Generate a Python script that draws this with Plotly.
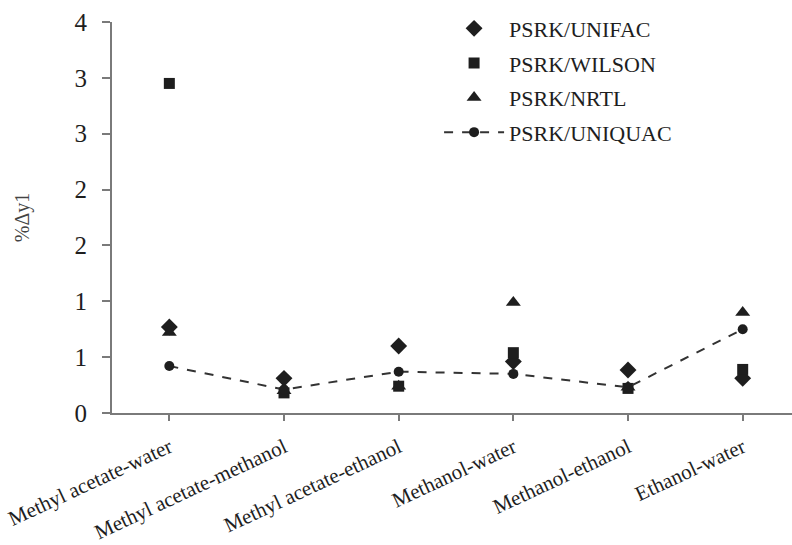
import plotly.graph_objects as go

categories = ["Methyl acetate-water", "Methyl acetate-methanol", "Methyl acetate-ethanol",
              "Methanol-water", "Methanol-ethanol", "Ethanol-water"]
unifac = [0.77, 0.31, 0.60, 0.46, 0.385, 0.31]
wilson = [2.95, 0.18, 0.24, 0.54, 0.22, 0.39]
nrtl = [0.72, 0.20, 0.24, 0.99, 0.23, 0.90]
uniquac = [0.42, 0.21, 0.37, 0.35, 0.23, 0.75]

y_tickvals = [0, 0.5, 1.0, 1.5, 2.0, 2.5, 3.0, 3.5]
y_ticktext = ["0", "1", "1", "2", "2", "3", "3", "4"]

FONT = "Liberation Serif"
INK = "#1e1e1e"
AX = "#7a7a7a"

fig = go.Figure()
fig.add_trace(go.Scatter(x=categories, y=unifac, mode="markers", name="PSRK/UNIFAC",
                         legendgroup="a",
                         marker=dict(symbol="diamond", size=13, color=INK)))
fig.add_trace(go.Scatter(x=categories, y=wilson, mode="markers", name="PSRK/WILSON",
                         legendgroup="b",
                         marker=dict(symbol="square", size=11, color=INK)))
fig.add_trace(go.Scatter(x=categories, y=nrtl, mode="markers", name="PSRK/NRTL",
                         legendgroup="c",
                         marker=dict(symbol="triangle-up", size=13, color=INK)))
fig.add_trace(go.Scatter(x=categories, y=uniquac, mode="lines+markers", name="PSRK/UNIQUAC",
                         legendgroup="d",
                         line=dict(color="#333333", width=2, dash="dash"),
                         marker=dict(symbol="circle", size=10, color=INK)))

fig.update_layout(
    width=792, height=545,
    margin=dict(l=112, r=0, t=22, b=132),
    paper_bgcolor="white", plot_bgcolor="white",
    font=dict(family=FONT, color=INK, size=20),
    showlegend=True,
    legend=dict(x=0.481, y=1.037, xanchor="left", yanchor="top",
                font=dict(family=FONT, size=22, color=INK),
                itemwidth=60, traceorder="grouped", tracegroupgap=3,
                bgcolor="rgba(0,0,0,0)"),
    xaxis=dict(type="category", range=[-0.5, 5.43], showgrid=False, zeroline=False,
               showline=True, linecolor=AX, linewidth=2,
               ticks="outside", ticklen=6, tickcolor=AX, tickwidth=1.5,
               tickangle=-25, tickfont=dict(family=FONT, size=21, color=INK),
               ticklabelstandoff=6),
    yaxis=dict(range=[0, 3.5], showgrid=False, zeroline=False,
               showline=True, linecolor=AX, linewidth=2,
               ticks="outside", ticklen=8, tickcolor=AX, tickwidth=1.5,
               tickvals=y_tickvals, ticktext=y_ticktext,
               tickfont=dict(family=FONT, size=25, color=INK),
               ticklabelstandoff=10,
               title=dict(text="%Δy1", font=dict(family=FONT, size=20, color="#444444"),
                          standoff=40)),
)

fig.write_html("out.html")
